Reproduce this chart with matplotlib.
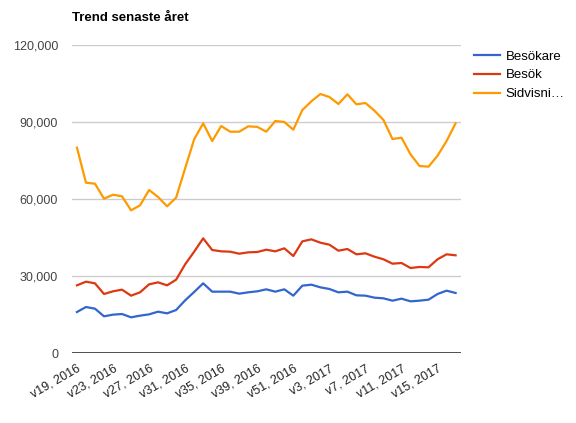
import matplotlib
matplotlib.use('Agg')
from matplotlib import pyplot as plt

plt.rcParams['font.family'] = ['Liberation Sans', 'DejaVu Sans']

# weeks shown on the x axis (gap between v42 and v51 in the source data)
weeks = ['v19, 2016', 'v20, 2016', 'v21, 2016', 'v22, 2016', 'v23, 2016', 'v24, 2016',
         'v25, 2016', 'v26, 2016', 'v27, 2016', 'v28, 2016', 'v29, 2016', 'v30, 2016',
         'v31, 2016', 'v32, 2016', 'v33, 2016', 'v34, 2016', 'v35, 2016', 'v36, 2016',
         'v37, 2016', 'v38, 2016', 'v39, 2016', 'v40, 2016', 'v41, 2016', 'v42, 2016',
         'v51, 2016', 'v52, 2016', 'v1, 2017', 'v2, 2017', 'v3, 2017', 'v4, 2017',
         'v5, 2017', 'v6, 2017', 'v7, 2017', 'v8, 2017', 'v9, 2017', 'v10, 2017',
         'v11, 2017', 'v12, 2017', 'v13, 2017', 'v14, 2017', 'v15, 2017', 'v16, 2017',
         'v17, 2017']

besokare = [15970, 17920, 17270, 14290, 14940, 15190, 13900, 14550, 15060, 16100,
            15450, 16750, 20520, 23770, 27140, 23900, 23900, 23900, 23120, 23640,
            24030, 24810, 23900, 24810, 22340, 26230, 26620, 25580, 24940, 23640,
            23900, 22470, 22340, 21560, 21300, 20390, 21170, 20130, 20390, 20780,
            22990, 24290, 23380]

besok = [26360, 27790, 27140, 22990, 24030, 24680, 22340, 23640, 26750, 27530,
         26360, 28570, 34550, 39470, 44670, 40130, 39610, 39470, 38690, 39220,
         39350, 40250, 39610, 40780, 37790, 43500, 44280, 42980, 42200, 39860,
         40520, 38450, 38840, 37520, 36510, 34800, 35060, 33120, 33510, 33380,
         36510, 38450, 38060]

sidvisningar = [80000, 66350, 65960, 60120, 61680, 61040, 55590, 57530, 63500, 60780,
                57140, 60520, 71950, 83250, 89480, 82600, 88440, 86220, 86220, 88310,
                88100, 86220, 90390, 90000, 87000, 94670, 98050, 100900, 99740, 97010,
                100780, 96890, 97400, 94410, 90780, 83370, 83880, 77400, 72860, 72600,
                76880, 82600, 89480]

series_names = ['Besökare', 'Besök', 'Sidvisni…']
colors = ['#3366cc', '#dc3912', '#ff9900']
yticks = [0, 30000, 60000, 90000, 120000]

fig = plt.figure(figsize=(5.76, 4.23), dpi=100)
ax = fig.add_axes([72 / 576, 1 - 353 / 423, (461 - 72) / 576, (353 - 45) / 423])

x = list(range(len(weeks)))
for vals, name, c in zip([besokare, besok, sidvisningar], series_names, colors):
    ax.plot(x, vals, color=c, lw=1.6, label=name, solid_joinstyle='round')

ax.set_xlim(-0.55, len(weeks) - 1 + 0.6)
ax.set_ylim(0, 120000)
ax.set_yticks(yticks)
ax.set_yticklabels(['{:,}'.format(v) for v in yticks], color='#444444', fontsize=9)
ax.grid(axis='y', color='#cccccc', lw=1)
ax.set_axisbelow(True)
ax.axhline(0, color='#333333', lw=1.2, zorder=1)

ax.set_xticks(x[::4])
ax.set_xticklabels(weeks[::4], rotation=30, ha='right', rotation_mode='anchor',
                   color='#222222', fontsize=9)
ax.tick_params(axis='both', length=0)
ax.tick_params(axis='y', pad=10)
ax.tick_params(axis='x', pad=7)
for s in ax.spines.values():
    s.set_visible(False)

fig.text(72 / 576, 1 - 18 / 423, 'Trend senaste året', fontsize=9.5, fontweight='bold',
         va='center', ha='left')

ax.legend(loc='upper left', bbox_to_anchor=(1.021, 1.0), frameon=False, fontsize=9.5,
          handlelength=1.9, handletextpad=0.45, labelspacing=0.5, borderaxespad=0)

fig.savefig('out.png', dpi=100)
